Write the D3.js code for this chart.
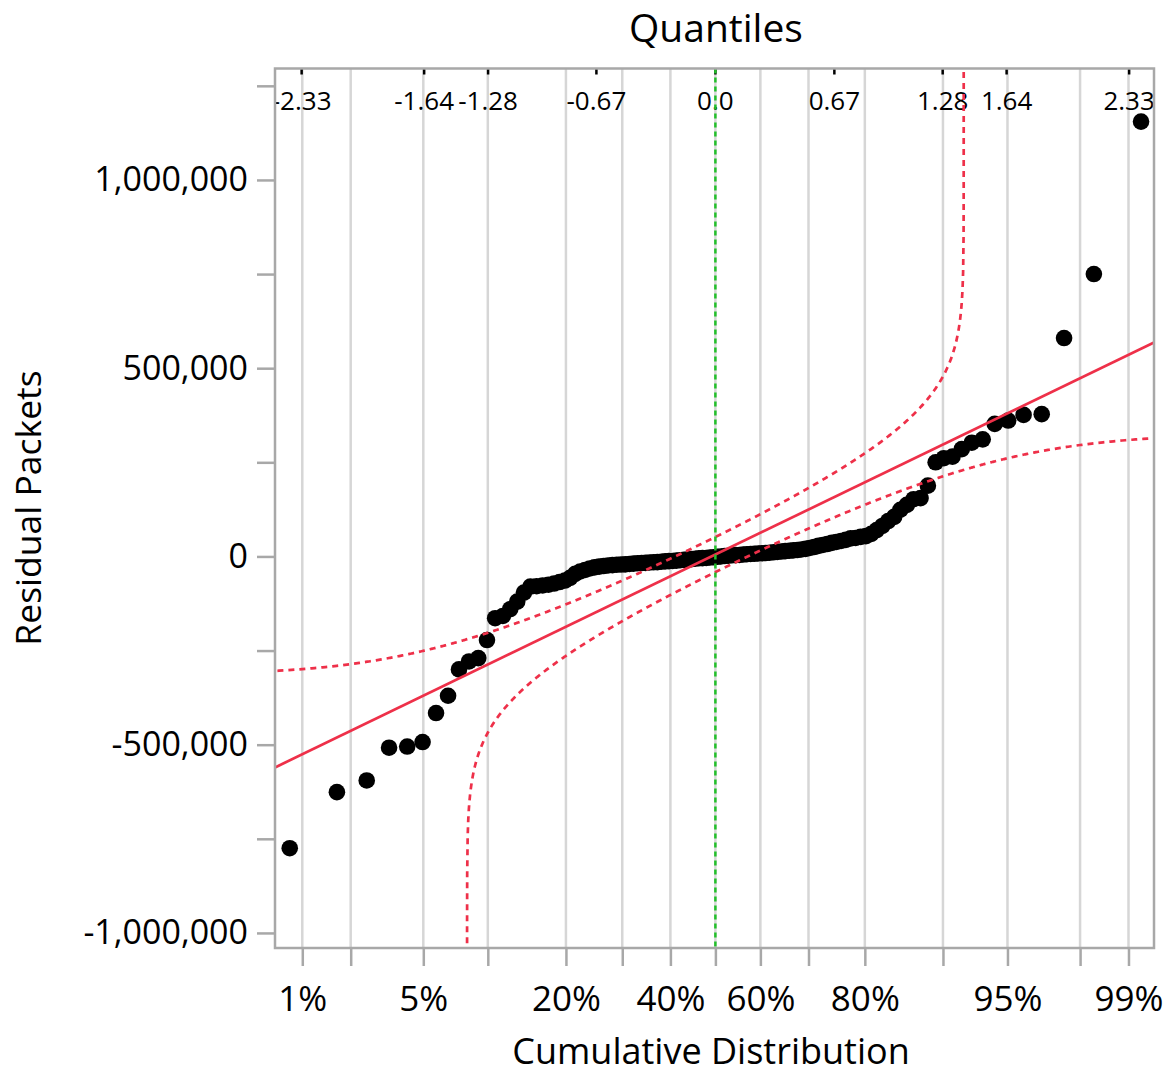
<!DOCTYPE html>
<html>
<head>
<meta charset="utf-8">
<script src="https://cdn.jsdelivr.net/npm/d3@7"></script>
<style>
body { margin: 0; background: #fff; }
text { font-family: "Open Sans", sans-serif; fill: #000; }
</style>
</head>
<body>
<div id="chart"></div>
<script>
// Residuals, sorted ascending (one per row, n = 120)
const residuals = [
    -775000, -626000, -595000, -508000, -505000, -493000, -416000, -370000, -300000, -279000,
    -270000, -222000, -164000, -158000, -140000, -120000, -96000, -80000, -79000, -77000,
    -75000, -72000, -68000, -64000, -57000, -46000, -40000, -36000, -32000, -29000,
    -27000, -25500, -24000, -23000, -22000, -21500, -21000, -20000, -19000, -18000,
    -17500, -17000, -16000, -15500, -15000, -14000, -13000, -12500, -12000, -11000,
    -10000, -9000, -8000, -7000, -6000, -5000, -4500, -4000, -3000, -2000,
    -1000, 0, 1000, 2000, 3000, 3500, 4000, 5000, 6000, 6500,
    7000, 8000, 8500, 9000, 10000, 11000, 12000, 13000, 14000, 15000,
    16000, 17000, 18500, 20000, 22600, 25000, 28000, 30500, 33000, 36000,
    38500, 41000, 44000, 48000, 49000, 52000, 54000, 60000, 70000, 81000,
    94000, 105000, 124000, 137000, 152000, 155000, 188000, 250000, 261000, 265000,
    285000, 302000, 311000, 352000, 361000, 376000, 378000, 580000, 750000, 1155000
];

// Cumulative probability axis (bottom)
const probTicks = [0.01, 0.02, 0.05, 0.10, 0.20, 0.30, 0.40, 0.50, 0.60, 0.70, 0.80, 0.90, 0.95, 0.98, 0.99];
const probLabels = {0.01: "1%", 0.05: "5%", 0.20: "20%", 0.40: "40%", 0.60: "60%", 0.80: "80%", 0.95: "95%", 0.99: "99%"};

// Normal quantile axis (top)
const quantileTicks = [-2.33, -1.64, -1.28, -0.67, 0, 0.67, 1.28, 1.64, 2.33];
const quantileLabels = ["-2.33", "-1.64", "-1.28", "-0.67", "0.0", "0.67", "1.28", "1.64", "2.33"];

// Residual axis
const yTicks = [-1000000, -750000, -500000, -250000, 0, 250000, 500000, 750000, 1000000, 1250000];
const yLabelled = [-1000000, -500000, 0, 500000, 1000000];

// Fitted normal line and Lilliefors confidence band
const fitMean = 5000;
const fitStd = 228000;
const bandD = 0.081;

// inverse normal cdf (Acklam)
function qnorm(p) {
    const a = [-3.969683028665376e+01, 2.209460984245205e+02, -2.759285104469687e+02, 1.383577518672690e+02, -3.066479806614716e+01, 2.506628277459239e+00];
    const b = [-5.447609879822406e+01, 1.615858368580409e+02, -1.556989798598866e+02, 6.680131188771972e+01, -1.328068155288572e+01];
    const c = [-7.784894002430293e-03, -3.223964580411365e-01, -2.400758277161838e+00, -2.549671010050484e+00, 4.374664141464968e+00, 2.938163982698783e+00];
    const d = [7.784695709041462e-03, 3.224671290700398e-01, 2.445134137142996e+00, 3.754408661907416e+00];
    const plow = 0.02425;
    let q, r;
    if (p < plow) {
        q = Math.sqrt(-2 * Math.log(p));
        return (((((c[0]*q+c[1])*q+c[2])*q+c[3])*q+c[4])*q+c[5]) / ((((d[0]*q+d[1])*q+d[2])*q+d[3])*q+1);
    }
    if (p <= 1 - plow) {
        q = p - 0.5; r = q * q;
        return (((((a[0]*r+a[1])*r+a[2])*r+a[3])*r+a[4])*r+a[5])*q / (((((b[0]*r+b[1])*r+b[2])*r+b[3])*r+b[4])*r+1);
    }
    q = Math.sqrt(-2 * Math.log(1 - p));
    return -(((((c[0]*q+c[1])*q+c[2])*q+c[3])*q+c[4])*q+c[5]) / ((((d[0]*q+d[1])*q+d[2])*q+d[3])*q+1);
}

const width = 1174, height = 1074;
const plot = {left: 275, right: 1154, top: 68.5, bottom: 948};

const svg = d3.select("#chart").append("svg")
    .attr("width", width)
    .attr("height", height)
    .style("background", "#fff");

const x = d3.scaleLinear().domain([-2.48, 2.47]).range([plot.left, plot.right]);
const y = d3.scaleLinear().domain([-1040000, 1296000]).range([plot.bottom, plot.top]);

svg.append("clipPath").attr("id", "plotclip")
    .append("rect")
    .attr("x", plot.left).attr("y", plot.top)
    .attr("width", plot.right - plot.left).attr("height", plot.bottom - plot.top);

// vertical grid at probability ticks
svg.append("g").selectAll("line")
    .data(probTicks)
    .enter().append("line")
    .attr("x1", d => x(qnorm(d))).attr("x2", d => x(qnorm(d)))
    .attr("y1", plot.top).attr("y2", plot.bottom)
    .attr("stroke", "#d6d6d6")
    .attr("stroke-width", 2.5);

// top quantile ticks + labels (inside the frame)
const quantAxis = svg.append("g").attr("clip-path", "url(#plotclip)");
quantAxis.selectAll("line")
    .data(quantileTicks)
    .enter().append("line")
    .attr("x1", d => x(d)).attr("x2", d => x(d))
    .attr("y1", plot.top).attr("y2", plot.top + 6)
    .attr("stroke", "#000")
    .attr("stroke-width", 2.5);
quantAxis.selectAll("text")
    .data(quantileTicks)
    .enter().append("text")
    .attr("x", d => x(d))
    .attr("y", 110)
    .attr("text-anchor", "middle")
    .style("font-size", "26px")
    .text((d, i) => quantileLabels[i]);

// points
const n = residuals.length;
svg.append("g").selectAll("circle")
    .data(residuals)
    .enter().append("circle")
    .attr("cx", (d, i) => x(qnorm((i + 1) / (n + 1))))
    .attr("cy", d => y(d))
    .attr("r", 8.3)
    .attr("fill", "#000");

// fitted line and confidence band
const lines = svg.append("g").attr("clip-path", "url(#plotclip)");
const red = "#ee3049";

lines.append("line")
    .attr("x1", x(-2.48)).attr("y1", y(fitMean + fitStd * -2.48))
    .attr("x2", x(2.47)).attr("y2", y(fitMean + fitStd * 2.47))
    .attr("stroke", red)
    .attr("stroke-width", 2.7);

let probs = d3.range(0.004, 0.996, 0.0005);
for (let k = 4; k <= 11; k++) {
    probs.push(1 - bandD - Math.pow(10, -k));
    probs.push(bandD + Math.pow(10, -k));
}
probs.sort((a, b) => a - b);

const upper = probs.filter(p => p + bandD < 1).map(p => [qnorm(p), fitMean + fitStd * qnorm(p + bandD)]);
const lower = probs.filter(p => p - bandD > 0).map(p => [qnorm(p), fitMean + fitStd * qnorm(p - bandD)]);
const bandLine = d3.line().x(d => x(d[0])).y(d => y(Math.max(-3e6, Math.min(3e6, d[1]))));

[upper, lower].forEach(band => {
    lines.append("path")
        .attr("d", bandLine(band))
        .attr("fill", "none")
        .attr("stroke", red)
        .attr("stroke-width", 2.7)
        .attr("stroke-dasharray", "6,5");
});

// reference line at quantile 0
lines.append("line")
    .attr("x1", x(0)).attr("x2", x(0))
    .attr("y1", plot.top).attr("y2", plot.bottom)
    .attr("stroke", "#22c02a")
    .attr("stroke-width", 2.5)
    .attr("stroke-dasharray", "5,4");

// frame
svg.append("rect")
    .attr("x", plot.left).attr("y", plot.top)
    .attr("width", plot.right - plot.left).attr("height", plot.bottom - plot.top)
    .attr("fill", "none")
    .attr("stroke", "#a8a8a8")
    .attr("stroke-width", 2.5);

// left axis
const yAxis = svg.append("g")
    .attr("transform", "translate(" + plot.left + ",0)")
    .call(d3.axisLeft(y)
          .tickValues(yTicks)
          .tickSize(18)
          .tickPadding(9)
          .tickFormat(d => yLabelled.includes(d) ? d3.format(",")(d).replace("\u2212", "-") : ""));
yAxis.select(".domain").remove();
yAxis.selectAll("line").attr("stroke", "#a8a8a8").attr("stroke-width", 2.5);
yAxis.selectAll("text").style("font-size", "34px").style("font-family", "'Open Sans', sans-serif").attr("fill", "#000");

// bottom axis
const xAxis = svg.append("g")
    .attr("transform", "translate(0," + plot.bottom + ")")
    .call(d3.axisBottom(x)
          .tickValues(probTicks.map(qnorm))
          .tickSize(18)
          .tickPadding(20)
          .tickFormat((d, i) => probLabels[probTicks[i]] || ""));
xAxis.select(".domain").remove();
xAxis.selectAll("line").attr("stroke", "#a8a8a8").attr("stroke-width", 2.5);
xAxis.selectAll("text").style("font-size", "35px").style("font-family", "'Open Sans', sans-serif").attr("fill", "#000");

// titles
svg.append("text")
    .attr("x", 716).attr("y", 42)
    .attr("text-anchor", "middle")
    .style("font-size", "39px")
    .text("Quantiles");

svg.append("text")
    .attr("x", 711).attr("y", 1064)
    .attr("text-anchor", "middle")
    .style("font-size", "36px")
    .text("Cumulative Distribution");

svg.append("text")
    .attr("transform", "translate(41,508) rotate(-90)")
    .attr("text-anchor", "middle")
    .style("font-size", "35.5px")
    .text("Residual Packets");
</script>
</body>
</html>
